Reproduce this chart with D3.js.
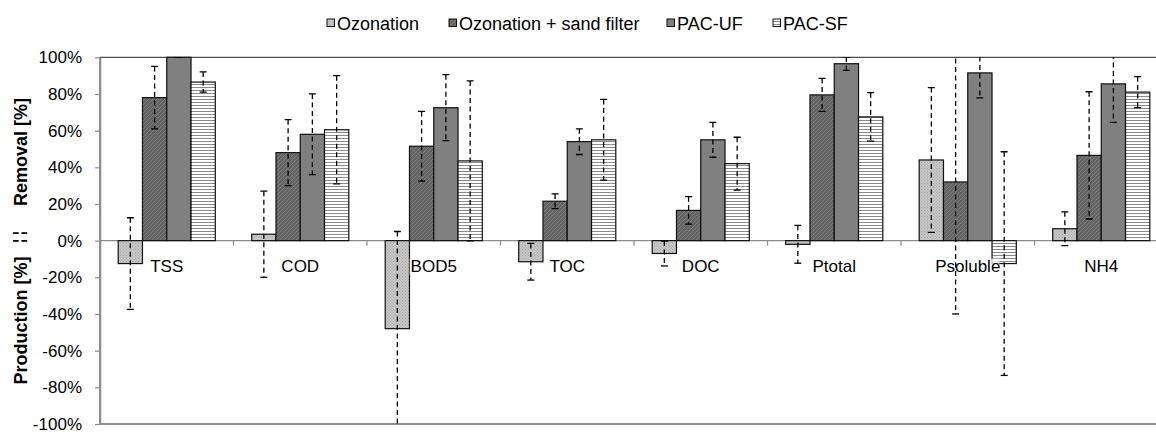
<!DOCTYPE html>
<html>
<head>
<meta charset="utf-8">
<script src="https://cdn.jsdelivr.net/npm/d3@7"></script>
<style>
  html, body { margin: 0; padding: 0; background: #fff; }
  svg { display: block; font-family: "Liberation Sans", Arial, sans-serif; }
</style>
</head>
<body>
<svg id="chart" width="1156" height="432"></svg>
<script>
// ---------------- data ----------------
const categories = ["TSS", "COD", "BOD5", "TOC", "DOC", "Ptotal", "Psoluble", "NH4"];
const seriesNames = ["Ozonation", "Ozonation + sand filter", "PAC-UF", "PAC-SF"];
const ozonation      = [-12.5, 3.5, -48, -11.5, -7, -2, 44, 6.5];
const ozonationErr   = [25, 23.5, 53, 10, 6.8, 10.3, 39.5, 9.2];
const ozonationSand  = [78, 48, 51.5, 21.5, 16.5, 79.5, 32, 46.5];
const ozonationSandErr = [17, 18, 19, 4, 7.5, 9, 72, 34.7];
const pacUF          = [100, 58, 72.5, 54, 55, 96.5, 91.5, 85.5];
const pacUFErr       = [0, 22, 18, 7, 9.5, 3.6, 13.6, 21];
const pacSF          = [86.5, 60.5, 43.5, 55, 42, 67.5, -12.5, 81];
const pacSFErr       = [5.5, 29.5, 43.6, 22, 14.4, 13.2, 61, 8.5];
const yTicks = [-100, -80, -60, -40, -20, 0, 20, 40, 60, 80, 100];

const seriesValues = [ozonation, ozonationSand, pacUF, pacSF];
const seriesErrors = [ozonationErr, ozonationSandErr, pacUFErr, pacSFErr];
const seriesFills = ["url(#patOzon)", "url(#patSand)", "#808080", "url(#patSF)"];

// ---------------- layout ----------------
const svg = d3.select("#chart");
const plotLeft = 100, plotRight = 1168, plotTop = 57.3, plotBottom = 424;

const x = d3.scaleBand().domain(categories).range([plotLeft, plotRight]).paddingInner(0).paddingOuter(0);
const bw = x.bandwidth() / 5.5;
const xs = d3.scaleBand().domain(d3.range(seriesNames.length))
  .range([bw * 0.75, x.bandwidth() - bw * 0.75]).padding(0);
const y = d3.scaleLinear().domain([-100, 100]).range([plotBottom, plotTop]);

// ---------------- patterns ----------------
const defs = svg.append("defs");
const pOz = defs.append("pattern").attr("id", "patOzon").attr("patternUnits", "userSpaceOnUse")
  .attr("width", 3).attr("height", 3);
pOz.append("rect").attr("width", 3).attr("height", 3).attr("fill", "#c6c6c6");
pOz.append("rect").attr("x", 0).attr("y", 0).attr("width", 1).attr("height", 1).attr("fill", "#a8a8a8");
pOz.append("rect").attr("x", 1.5).attr("y", 1.5).attr("width", 1).attr("height", 1).attr("fill", "#b0b0b0");

const pSa = defs.append("pattern").attr("id", "patSand").attr("patternUnits", "userSpaceOnUse")
  .attr("width", 4).attr("height", 4);
pSa.append("rect").attr("width", 4).attr("height", 4).attr("fill", "#646464");
pSa.append("path").attr("d", "M0,4 L4,0 M-1,1 L1,-1 M3,5 L5,3").attr("stroke", "#7c7c7c").attr("stroke-width", 1);

const pSF = defs.append("pattern").attr("id", "patSF").attr("patternUnits", "userSpaceOnUse")
  .attr("width", 6).attr("height", 3);
pSF.append("rect").attr("width", 6).attr("height", 3).attr("fill", "#ffffff");
pSF.append("rect").attr("y", 0).attr("width", 6).attr("height", 1).attr("fill", "#8a8a8a");

defs.append("clipPath").attr("id", "plotClip").append("rect")
  .attr("x", plotLeft).attr("y", plotTop).attr("width", plotRight - plotLeft).attr("height", plotBottom - plotTop);

// ---------------- plot frame ----------------
svg.append("rect").attr("x", plotLeft).attr("y", plotTop)
  .attr("width", plotRight - plotLeft).attr("height", plotBottom - plotTop)
  .attr("fill", "none").attr("stroke", "#222").attr("stroke-width", 1);

// horizontal zero axis with category ticks
svg.append("line").attr("x1", plotLeft).attr("x2", plotRight)
  .attr("y1", y(0)).attr("y2", y(0)).attr("stroke", "#8c8c8c").attr("stroke-width", 1.2);
svg.append("g").selectAll("line").data(categories.slice(1)).join("line")
  .attr("x1", d => x(d)).attr("x2", d => x(d))
  .attr("y1", y(0)).attr("y2", y(0) + 5)
  .attr("stroke", "#8c8c8c").attr("stroke-width", 1.2);

// ---------------- bars ----------------
const gBars = svg.append("g");
seriesValues.forEach((vals, si) => {
  gBars.append("g").selectAll("rect").data(vals).join("rect")
    .attr("x", (d, i) => x(categories[i]) + xs(si))
    .attr("width", xs.bandwidth())
    .attr("y", d => y(Math.max(0, d)))
    .attr("height", d => Math.abs(y(d) - y(0)))
    .attr("fill", seriesFills[si])
    .attr("stroke", "#111").attr("stroke-width", 1.2);
});

// ---------------- category labels ----------------
const gLab = svg.append("g");
categories.forEach(c => {
  const t = gLab.append("text")
    .attr("x", x(c) + x.bandwidth() / 2).attr("y", y(0) + 31)
    .attr("text-anchor", "middle").attr("font-size", 17).attr("fill", "#000")
    .text(c);
  const bb = t.node().getBBox();
  gLab.insert("rect", "text").attr("x", bb.x - 1).attr("y", bb.y + 2)
    .attr("width", bb.width + 0).attr("height", bb.height - 3)
    .attr("fill", "#fff").attr("opacity", 0.75);
});

// ---------------- error bars ----------------
const gErr = svg.append("g").attr("clip-path", "url(#plotClip)");
seriesValues.forEach((vals, si) => {
  const errs = seriesErrors[si];
  vals.forEach((v, i) => {
    const cx = x(categories[i]) + xs(si) + xs.bandwidth() / 2;
    const hi = v + errs[i], lo = v - errs[i];
    gErr.append("line").attr("x1", cx).attr("x2", cx).attr("y1", y(hi)).attr("y2", y(lo))
      .attr("stroke", "#000").attr("stroke-width", 1.3).attr("stroke-dasharray", "5,3.5");
    [hi, lo].forEach(e => {
      gErr.append("line").attr("x1", cx - 3.5).attr("x2", cx + 3.5).attr("y1", y(e)).attr("y2", y(e))
        .attr("stroke", "#000").attr("stroke-width", 1.3);
    });
  });
});

// ---------------- y axis ----------------
const gY = svg.append("g").attr("transform", `translate(${plotLeft},0)`)
  .call(d3.axisLeft(y).tickValues(yTicks).tickFormat(d => d + "%").tickSize(5).tickSizeOuter(0).tickPadding(13));
gY.select(".domain").attr("stroke", "#8c8c8c").attr("stroke-width", 1.5);
gY.selectAll(".tick line").attr("stroke", "#8c8c8c").attr("stroke-width", 1.2);
gY.selectAll(".tick text").attr("font-size", 17).attr("fill", "#000")
  .attr("font-family", "'Liberation Sans', Arial, sans-serif");

// y-axis titles
svg.append("text").attr("transform", "translate(27,152) rotate(-90)")
  .attr("text-anchor", "middle").attr("font-size", 18).attr("font-weight", "bold").text("Removal [%]");
svg.append("text").attr("transform", "translate(27,320.5) rotate(-90)")
  .attr("text-anchor", "middle").attr("font-size", 18).attr("font-weight", "bold").text("Production [%]");
svg.append("text").attr("transform", "translate(24,237) rotate(-90)")
  .attr("text-anchor", "middle").attr("font-size", 14).attr("font-weight", "bold").text("¦ ¦");

// ---------------- legend ----------------
const legendX = [327, 449, 667, 773];
const gLeg = svg.append("g");
seriesNames.forEach((name, si) => {
  gLeg.append("rect").attr("x", legendX[si]).attr("y", 19).attr("width", 7.5).attr("height", 7.5)
    .attr("fill", seriesFills[si]).attr("stroke", "#111").attr("stroke-width", 1);
  gLeg.append("text").attr("x", legendX[si] + 10).attr("y", 29.5)
    .attr("font-size", 18).attr("fill", "#000").text(name);
});
</script>
</body>
</html>
